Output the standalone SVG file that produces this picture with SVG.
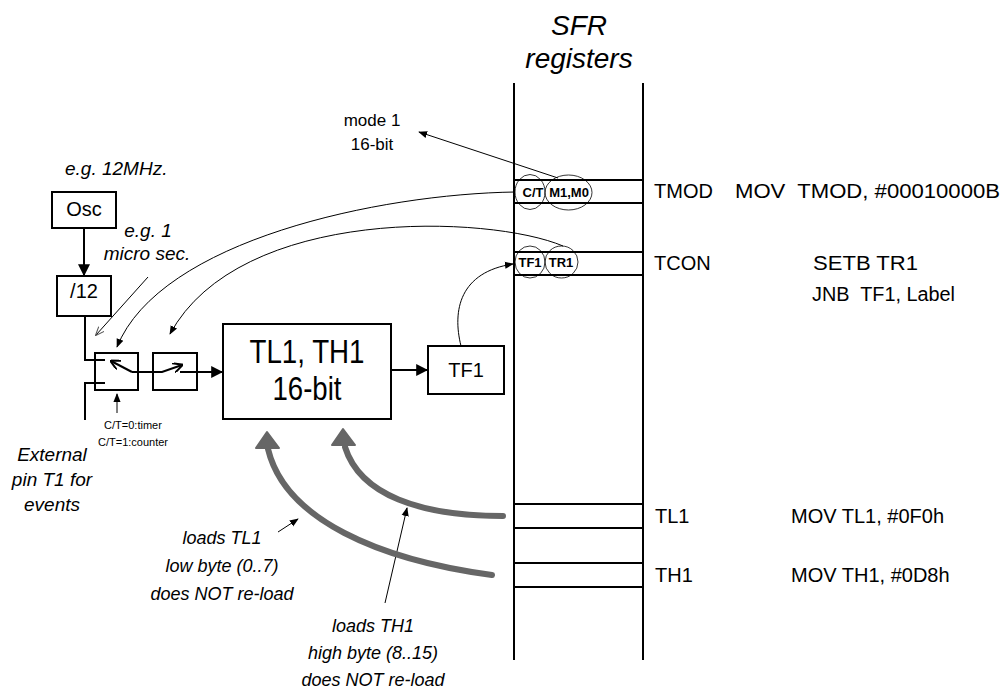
<svg xmlns="http://www.w3.org/2000/svg" width="1001" height="696" viewBox="0 0 1001 696">
<style>
text{font-family:"Liberation Sans",Arial,sans-serif;fill:#000}
.it{font-style:italic}
.box{fill:#fff;stroke:#000;stroke-width:2}
.reg{stroke:#000;stroke-width:2;fill:none}
.ln{stroke:#000;stroke-width:1;fill:none}
.w{stroke:#000;stroke-width:2;fill:none}
.thick{stroke:#666;stroke-width:6;fill:none;stroke-linecap:round}
.bit{fill:none;stroke:#000;stroke-width:0.8}
.bt{font-weight:bold;font-size:13px}
</style>
<defs>
<marker id="ah" viewBox="0 0 10 10" refX="9" refY="5" markerWidth="9" markerHeight="9" markerUnits="userSpaceOnUse" orient="auto"><path d="M0,1 L10,5 L0,9 Z" fill="#000"/></marker>
<marker id="ahb" viewBox="0 0 10 10" refX="9" refY="5" markerWidth="12" markerHeight="12" markerUnits="userSpaceOnUse" orient="auto"><path d="M0,0 L10,5 L0,10 Z" fill="#000"/></marker>
<marker id="ahg" viewBox="0 0 10 10" refX="9" refY="5" markerWidth="9" markerHeight="9" markerUnits="userSpaceOnUse" orient="auto"><path d="M0,1 L10,5 L0,9" fill="none" stroke="#555" stroke-width="1.2"/></marker>
<marker id="chev" viewBox="0 0 10 10" refX="9" refY="5" markerWidth="10" markerHeight="10" markerUnits="userSpaceOnUse" orient="auto"><path d="M0,0 L10,5 L0,10" fill="none" stroke="#000" stroke-width="2"/></marker>
</defs>

<g id="title">
<text class="it" x="579" y="35" font-size="28" text-anchor="middle">SFR</text>
<text class="it" x="579" y="68" font-size="28" text-anchor="middle">registers</text>
</g>

<g id="sfr">
<line class="reg" x1="514" y1="83" x2="514" y2="660"/>
<line class="reg" x1="643" y1="83" x2="643" y2="660"/>
<line class="reg" x1="514" y1="180" x2="643" y2="180"/>
<line class="reg" x1="514" y1="203" x2="643" y2="203"/>
<line class="reg" x1="514" y1="252" x2="643" y2="252"/>
<line class="reg" x1="514" y1="275" x2="643" y2="275"/>
<line class="reg" x1="514" y1="504" x2="643" y2="504"/>
<line class="reg" x1="514" y1="528" x2="643" y2="528"/>
<line class="reg" x1="514" y1="563" x2="643" y2="563"/>
<line class="reg" x1="514" y1="587" x2="643" y2="587"/>
</g>

<g id="tmod-bits">
<ellipse class="bit" cx="530" cy="192" rx="15" ry="17.5"/>
<ellipse class="bit" cx="568.5" cy="192.5" rx="23.5" ry="17.5"/>
<text class="bt" x="533" y="197" text-anchor="middle">C/T</text>
<text class="bt" x="569" y="197" text-anchor="middle">M1,M0</text>
</g>

<g id="tcon-bits">
<ellipse class="bit" cx="530" cy="262" rx="15" ry="16"/>
<ellipse class="bit" cx="561.5" cy="262" rx="16.5" ry="16"/>
<text class="bt" x="530" y="267" text-anchor="middle">TF1</text>
<text class="bt" x="561" y="267" text-anchor="middle">TR1</text>
</g>

<g id="reg-labels" font-size="20">
<text x="654" y="198">TMOD</text>
<text x="735" y="198" xml:space="preserve" textLength="265" lengthAdjust="spacingAndGlyphs">MOV  TMOD, #00010000B</text>
<text x="654" y="270">TCON</text>
<text x="813" y="270" textLength="105" lengthAdjust="spacingAndGlyphs">SETB TR1</text>
<text x="812" y="301" xml:space="preserve" textLength="143" lengthAdjust="spacingAndGlyphs">JNB  TF1, Label</text>
<text x="655" y="523">TL1</text>
<text x="791" y="523">MOV TL1, #0F0h</text>
<text x="655" y="582">TH1</text>
<text x="791" y="582">MOV TH1, #0D8h</text>
</g>

<g id="mode-note">
<text x="372" y="126" font-size="17" text-anchor="middle">mode 1</text>
<text x="372" y="150" font-size="17" text-anchor="middle">16-bit</text>
</g>

<g id="osc">
<rect class="box" x="52" y="192" width="64" height="36"/>
<text x="84" y="216" font-size="20" text-anchor="middle">Osc</text>
</g>
<g id="div12">
<rect class="box" x="57" y="276" width="54" height="40"/>
<text x="84" y="298" font-size="20" text-anchor="middle">/12</text>
</g>

<g id="switch1">
<rect class="box" x="95" y="353" width="43" height="37"/>
</g>
<g id="switch2">
<rect class="box" x="153" y="353" width="44" height="37"/>
</g>

<g id="counter">
<rect class="box" x="223" y="324" width="168" height="95"/>
<text x="307" y="363" font-size="33" text-anchor="middle" textLength="115" lengthAdjust="spacingAndGlyphs">TL1, TH1</text>
<text x="307" y="400" font-size="33" text-anchor="middle" textLength="69" lengthAdjust="spacingAndGlyphs">16-bit</text>
</g>

<g id="tf1box">
<rect class="box" x="428" y="346" width="76" height="48"/>
<text x="466" y="377" font-size="20" text-anchor="middle">TF1</text>
</g>

<g id="notes">
<text class="it" x="65" y="175" font-size="19">e.g. 12MHz.</text>
<text class="it" x="148" y="237" font-size="19" text-anchor="middle">e.g. 1</text>
<text class="it" x="147" y="260" font-size="19" text-anchor="middle">micro sec.</text>
<text x="133" y="429" font-size="11" text-anchor="middle">C/T=0:timer</text>
<text x="133" y="446" font-size="11" text-anchor="middle">C/T=1:counter</text>
<text class="it" x="52" y="461" font-size="19" text-anchor="middle">External</text>
<text class="it" x="52" y="486" font-size="19" text-anchor="middle">pin T1 for</text>
<text class="it" x="52" y="511" font-size="19" text-anchor="middle">events</text>
<text class="it" x="222" y="544" font-size="18" text-anchor="middle">loads TL1</text>
<text class="it" x="222" y="572" font-size="18" text-anchor="middle">low byte (0..7)</text>
<text class="it" x="222" y="600" font-size="18" text-anchor="middle">does NOT re-load</text>
<text class="it" x="373" y="632" font-size="18" text-anchor="middle">loads TH1</text>
<text class="it" x="373" y="659" font-size="18" text-anchor="middle">high byte (8..15)</text>
<text class="it" x="373" y="686" font-size="18" text-anchor="middle">does NOT re-load</text>
</g>

<g id="connectors">
<line class="w" x1="84" y1="228" x2="84" y2="275" marker-end="url(#ahb)"/>
<polyline class="w" points="85,316 85,360 105,360"/>
<polyline class="w" points="85,420 85,383 105,383"/>
<line class="w" x1="132" y1="372" x2="111" y2="361" marker-end="url(#chev)"/>
<polyline class="w" points="132,372 162,372 182,365" marker-end="url(#chev)"/>
<line class="w" x1="180" y1="372" x2="222" y2="372" marker-end="url(#ahb)"/>
<line class="w" x1="391" y1="370" x2="427" y2="370" marker-end="url(#ahb)"/>
<line class="ln" x1="117" y1="413" x2="117" y2="394" marker-end="url(#ah)"/>
<line class="ln" x1="148" y1="277" x2="96" y2="335" stroke="#555" marker-end="url(#ahg)"/>
<path class="ln" d="M515,192 C380,194 160,240 117,347" marker-end="url(#ah)"/>
<path class="ln" d="M563,246 C490,215 240,205 170,334" marker-end="url(#ah)"/>
<path class="ln" d="M461,346 C452,310 460,272 513,264" marker-end="url(#ah)"/>
<line class="ln" x1="558" y1="178" x2="419" y2="132" marker-end="url(#ah)"/>
<line class="ln" x1="278" y1="532" x2="298" y2="519" marker-end="url(#ah)"/>
<line class="ln" x1="385" y1="603" x2="407" y2="508" marker-end="url(#ah)"/>
<path class="thick" d="M503,516 C420,516 360,495 345,447"/>
<path d="M343,429 L332,445 L355,445 Z" fill="#666" stroke="#666" stroke-width="2" stroke-linejoin="round"/>
<path class="thick" d="M492,575 C380,560 285,520 268,449"/>
<path d="M267,432 L256,448 L279,448 Z" fill="#666" stroke="#666" stroke-width="2" stroke-linejoin="round"/>
</g>
</svg>
